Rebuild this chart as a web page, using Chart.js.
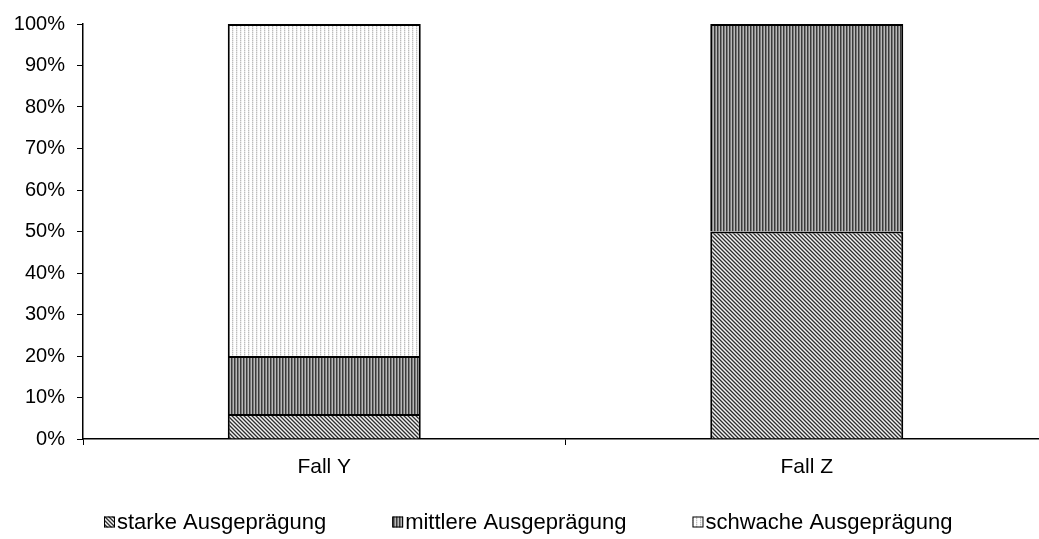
<!DOCTYPE html>
<html>
<head>
<meta charset="utf-8">
<script src="https://cdn.jsdelivr.net/npm/chart.js@4/dist/chart.umd.min.js"></script>
<style>
  html, body { margin: 0; padding: 0; background: #fff; overflow: hidden; }
  #wrap { width: 1048px; height: 539px; }
</style>
</head>
<body>
<div id="wrap"><canvas id="c" width="1048" height="539"></canvas></div>
<script>
// Categories and stacked shares (percent)
const categories = ['Fall Y', 'Fall Z'];
const seriesLabels = ['starke Ausgeprägung', 'mittlere Ausgeprägung', 'schwache Ausgeprägung'];
const starke = [6, 50];
const mittlere = [14, 50];
const schwache = [80, 0];
const yTicks = [0, 10, 20, 30, 40, 50, 60, 70, 80, 90, 100];

const FONT = '"Liberation Sans", Arial, sans-serif';

// Small bitmap tiles used as hatch fills
function makePattern(w, h, pix) {
  const cv = document.createElement('canvas');
  cv.width = w; cv.height = h;
  const g = cv.getContext('2d');
  for (let y = 0; y < h; y++) {
    for (let x = 0; x < w; x++) {
      g.fillStyle = pix(x, y);
      g.fillRect(x, y, 1, 1);
    }
  }
  return g.createPattern(cv, 'repeat');
}
const ctx = document.getElementById('c').getContext('2d');
const patStarke = makePattern(4, 4, (x, y) => {
  const v = ((x - y) % 4 + 4) % 4;
  return ['#2e2e2e', '#8c8c8c', '#f2f2f2', '#a6a6a6'][v];
});
const patMittlere = makePattern(3, 1, (x) => ['#3a3a3a', '#7a7a7a', '#b8b8b8'][x]);
const patSchwache = makePattern(4, 2, (x, y) => {
  if (x === 0) return y === 0 ? '#bdbdbd' : '#e2e2e2';
  if (x === 1) return y === 0 ? '#ececec' : '#f8f8f8';
  return '#ffffff';
});
const fills = [patStarke, patMittlere, patSchwache];

// Legend drawn below the axis: pattern box with black outline + label
const bottomLegend = {
  id: 'bottomLegend',
  afterDraw(chart) {
    const c = chart.ctx;
    c.save();
    c.font = '22px ' + FONT;
    c.textBaseline = 'middle';
    const box = 11, gapText = 2, gapItem = 66;
    const widths = seriesLabels.map(t => box + gapText + c.measureText(t).width);
    let x = 104;
    const y = 522;
    seriesLabels.forEach((t, i) => {
      c.fillStyle = fills[i];
      c.fillRect(x, y - box / 2, box, box);
      c.strokeStyle = '#000';
      c.lineWidth = 1;
      c.strokeRect(x + 0.5, y - box / 2 + 0.5, box - 1, box - 1);
      c.fillStyle = '#000';
      c.fillText(t, x + box + gapText, y + 1);
      x += widths[i] + gapItem;
    });
    c.restore();
  }
};

new Chart(ctx, {
  type: 'bar',
  data: {
    labels: categories,
    datasets: [starke, mittlere, schwache].map((d, i) => ({
      label: seriesLabels[i],
      data: d,
      backgroundColor: fills[i],
      borderColor: '#000',
      borderWidth: 2,
      borderSkipped: 'bottom',
      categoryPercentage: 1,
      barPercentage: 0.4
    }))
  },
  options: {
    responsive: false,
    animation: false,
    devicePixelRatio: 1,
    layout: { padding: { top: 22, bottom: 60, left: 0, right: 0 } },
    plugins: { legend: { display: false }, tooltip: { enabled: false } },
    scales: {
      x: {
        stacked: true,
        offset: true,
        grid: { offset: true, drawOnChartArea: false, drawTicks: true, tickLength: 6, color: '#000', lineWidth: 1 },
        border: { display: true, color: '#000', width: 1.5 },
        ticks: { color: '#000', font: { family: FONT, size: 21 }, padding: 10 },
        afterFit(s) { s.height = 40; }
      },
      y: {
        stacked: true,
        min: 0,
        max: 100,
        afterBuildTicks(s) { s.ticks = yTicks.map(v => ({ value: v })); },
        grid: { drawOnChartArea: false, drawTicks: true, tickLength: 6, color: '#000', lineWidth: 1 },
        border: { display: true, color: '#000', width: 1.5 },
        ticks: { color: '#000', font: { family: FONT, size: 20 }, padding: 12, callback: v => v + '%' },
        afterFit(s) { s.width = 83; }
      }
    }
  },
  plugins: [bottomLegend]
});
</script>
</body>
</html>
